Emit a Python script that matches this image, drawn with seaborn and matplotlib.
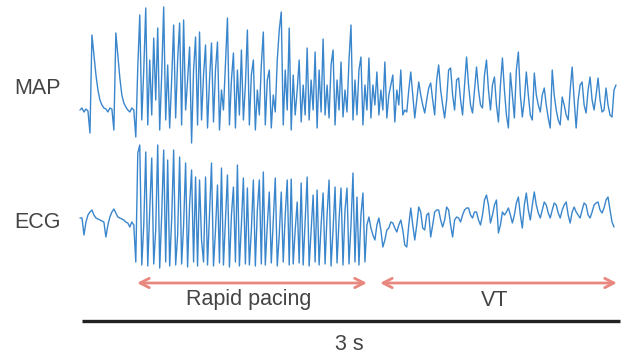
import numpy as np
import pandas as pd
import seaborn as sns
import matplotlib.pyplot as plt

# sampling rate of the hand-read traces (2 px per sample against the 3 s bar)
FS = 90.0

# MAP trace, amplitude above the resting baseline (arbitrary units)
map_trace = [
    0, 2, -2, 1, -1, -23, 75, 55, 35, 20,
    10, 5, 2, 1, -2, 2, 1, -20, 77, 55,
    32, 15, 7, 3, 0, -2, 2, 0, -27, 43,
    95, -10, 40, 102, -15, 50, -5, 72, 10, 82,
    -20, 35, 103, -10, 45, -18, 30, 85, -8, 50,
    87, -15, 90, 0, 30, 63, -33, 40, 73, -15,
    78, -10, 35, 65, -18, 30, 67, -12, 40, 68,
    -20, 20, 0, 45, 92, -15, 30, 57, -18, 40,
    -5, 60, -10, 25, 80, -15, 35, 50, -20, 20,
    -5, 45, 78, -15, 30, 40, -18, 15, -2, 50,
    80, 98, -15, 40, 0, 82, -20, 35, -5, 20,
    50, -12, 25, -5, 62, -10, 30, 0, 58, -18,
    40, -2, 71, -5, 25, -8, 45, 60, -15, 30,
    0, 48, -7, 20, -2, 50, 85, -10, 30, -5,
    40, 53, -15, 25, 0, 52, -8, 25, 5, 38,
    -5, 20, 0, 48, -8, 15, 25, 35, -12, 20,
    5, 40, -5, 0, -2, 20, 38, 15, -8, 10,
    28, 15, 5, -3, 10, 22, 27, 10, -5, 30,
    45, 20, 5, -8, 10, 40, 42, 15, 0, 30,
    32, 10, -5, 25, 53, 25, 5, -3, 20, 43,
    20, 5, 2, 35, 50, 20, 0, 25, 33, 5,
    -12, 25, 52, 20, -5, -18, 37, 15, -8, 40,
    58, 15, -7, 10, 38, 15, -5, -10, 37, 15,
    5, -2, 15, 22, 5, -8, -18, 40, 15, 0,
    -10, -15, 13, 5, -5, -10, 20, 43, 10, -18,
    10, 25, 28, 5, -3, 20, 33, 10, 0, 15,
    32, 10, -2, 0, 22, 5, -5, -7, 20, 25,
]

# ECG trace, amplitude above the isoelectric line (arbitrary units)
ecg_trace = [
    -3, -3, -20, -7, 0, 3, 5, 0, -3, -4,
    -5, -6, -7, -22, -10, -2, 3, 6, 2, -2,
    -3, -4, -5, -7, -8, -12, -7, -10, -47, 62,
    70, -50, -10, 63, -51, 5, 57, -49, -15, 70,
    -53, 0, 65, -47, 55, -51, -5, 65, -50, -20,
    58, -49, -10, 52, -52, 10, 45, -47, 38, -51,
    35, -25, -47, 38, -50, 0, 52, -51, -15, 30,
    -48, 47, -50, -5, 40, -52, 0, 28, -47, 50,
    -51, -10, 37, -49, 27, -50, -15, 35, -51, 5,
    35, -49, 43, -50, -10, 23, -48, -5, 37, -51,
    -20, 23, -47, 0, 35, -50, 36, -49, -15, 13,
    -48, 32, -50, -5, 38, -51, -15, 20, -47, 25,
    -50, -10, 22, -49, 0, 35, -51, -15, 28, -48,
    -5, 27, -50, 5, 27, -49, -10, 42, -47, 18,
    -50, 0, 22, -47, -10, -2, -13, -20, -25, -10,
    -3, -15, -32, -25, -15, -13, -7, -8, -13, -17,
    -10, -5, -15, -30, -32, -10, 7, -10, -25, -10,
    8, 3, -13, -15, 0, 2, -22, -10, 3, 5,
    5, -5, -12, -5, 8, 5, -10, -22, -5, -2,
    -3, -7, 0, 5, 7, 7, 0, -3, 3, 3,
    -5, -10, 0, 15, 20, 10, -8, 0, 10, 15,
    -18, -10, 3, 0, 3, 7, 0, -8, 0, 12,
    18, 0, -13, 10, 22, 5, -5, 10, 23, 10,
    2, -3, 5, 13, 10, 2, -3, 5, 12, 10,
    2, -3, 5, 10, 13, 0, -8, 3, 8, 3,
    0, -3, 5, 12, 10, 0, -3, 3, 10, 12,
    13, 5, 2, 7, 15, 18, 5, -7, -12,
]

phases = ['Rapid pacing', 'VT']
phase_start = [0.318, 1.673]   # s
phase_end = [1.600, 2.994]     # s
scale_bar = 3                  # s


def to_frame(values, name, offset):
    t = np.arange(len(values)) / FS
    return pd.DataFrame({'time': t, 'y': np.asarray(values) + offset, 'signal': name})


sns.set_theme(style='white')
plt.rcParams['font.family'] = ['Liberation Sans', 'DejaVu Sans']

fig = plt.figure(figsize=(6.26, 3.55), dpi=100)
ax = fig.add_axes([0, 0, 1, 1])

df = pd.concat([to_frame(map_trace, 'MAP', 245), to_frame(ecg_trace, 'ECG', 140)])
sns.lineplot(data=df, x='time', y='y', units='signal', estimator=None, sort=False,
             color='#3a86cc', lw=1.0, ax=ax)

txt = dict(fontsize=15.5, color='#444444', ha='center', va='center')
ax.text(-0.235, 267, 'MAP', **txt)
ax.text(-0.235, 132, 'ECG', **txt)

for name, s, e in zip(phases, phase_start, phase_end):
    ax.annotate('', xy=(e, 72), xytext=(s, 72),
                arrowprops=dict(arrowstyle='<->,head_length=0.55,head_width=0.28',
                                color='#e8877e', lw=2, shrinkA=0, shrinkB=0))
    ax.text((s + e) / 2 - 0.02, 55, name, **txt)

ax.hlines(34, 0.01, scale_bar + 0.01, color='#222222', lw=2.4)
ax.text(scale_bar / 2, 10, f'{scale_bar} s', **txt)

ax.set_xlim(-80 / 179.33, 546 / 179.33)
ax.set_ylim(0, 355)
ax.set_axis_off()

fig.savefig('out.png', dpi=100)
